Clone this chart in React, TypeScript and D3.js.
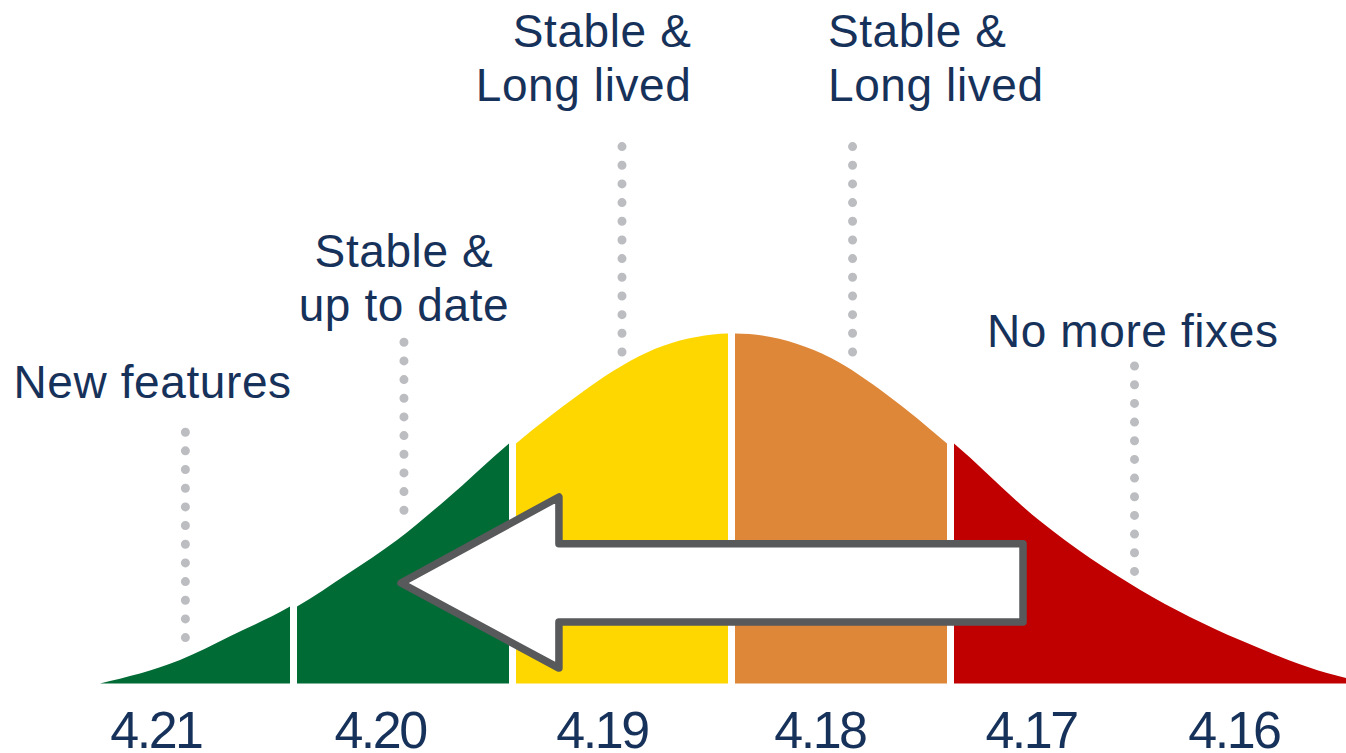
import * as React from 'react';
import * as d3 from 'd3';

// release labels under the curve, left to right
const releases = ['4.21', '4.20', '4.19', '4.18', '4.17', '4.16'];
// label centres along the axis (axis units)
const releasePos = [-2.715, -1.658, -0.611, 0.417, 1.413, 2.37];

// bell curve samples: position along the axis, height (peak = 1)
const curveX = [-2.896, -2.519, -2.283, -2.0, -1.764, -1.528, -1.292, -1.0, -0.698, -0.542, -0.382, -0.071, 0,
  0.453, 0.715, 1.0, 1.406, 1.877, 2.349, 2.849, 2.95];
const curveY = [0, 0.067, 0.135, 0.22, 0.312, 0.41, 0.528, 0.686, 0.828, 0.893, 0.946, 0.997, 1.0,
  0.93, 0.826, 0.686, 0.464, 0.268, 0.124, 0.016, 0.004];

// the curve is cut into pieces at these points
const pieceStart = [-2.896, -2, -1, 0, 1];
const pieceEnd = [-2, -1, 0, 1, 2.95];
const pieceColor = ['#006b35', '#006b35', '#fed700', '#de8738', '#c00000'];

// annotations: text lines, dotted leader position and extent
const noteLines = [['New features'], ['Stable &', 'up to date'], ['Stable &', 'Long lived'], ['Stable &', 'Long lived'], ['No more fixes']];
const noteTextX = [-3.387, -1.545, -0.189, 0.455, 1.205];
const noteAnchor = ['start', 'middle', 'end', 'start', 'start'];
const noteTextY = [0.8157, 1.19, 1.819, 1.819, 0.962];
const noteDotX = [-2.576, -1.545, -0.5165, 0.571, 1.901];
const noteDotTop = [0.718, 0.975, 1.534, 1.534, 0.907];
const noteDotBottom = [0.131, 0.495, 0.943, 0.943, 0.319];

// the arrow, in axis units
const arrowTip = [-1.559, 0.287];
const arrowNeck = -0.814;
const arrowTail = 1.375;
const arrowHead = [0.533, 0.044];
const arrowShaft = [0.399, 0.176];

const width = 1346;
const height = 753;
const gap = 7;
const textColor = '#17325a';
const font = '"Liberation Sans", Arial, sans-serif';

export default function App() {
  const x = d3.scaleLinear().domain([0, 1]).range([731.5, 943.5]);
  const y = d3.scaleLinear().domain([0, 1]).range([683.5, 333.5]);

  const pts = curveX.map((v, i) => [v, curveY[i]] as [number, number]);
  const area = d3
    .area<[number, number]>()
    .x((d) => x(d[0]))
    .y0(y(0))
    .y1((d) => y(d[1]))
    .curve(d3.curveMonotoneX);
  const areaPath = area(pts) || '';

  // pieces are pushed apart from the centre cut
  const shifts = pieceStart.map((_, i) => (i - 2.5) * gap);

  const arrow = [
    [arrowTip[0], arrowTip[1]],
    [arrowNeck, arrowHead[0]],
    [arrowNeck, arrowShaft[0]],
    [arrowTail, arrowShaft[0]],
    [arrowTail, arrowShaft[1]],
    [arrowNeck, arrowShaft[1]],
    [arrowNeck, arrowHead[1]],
  ];
  const arrowPath = 'M' + arrow.map((p) => `${x(p[0])},${y(p[1])}`).join('L') + 'Z';

  return (
    <svg width={width} height={height} style={{ position: 'absolute', left: 0, top: 0, background: '#fff' }}>
      <defs>
        {pieceStart.map((s, i) => (
          <clipPath id={`piece-${i}`} key={i}>
            <rect x={x(s)} y={0} width={x(pieceEnd[i]) - x(s)} height={height} />
          </clipPath>
        ))}
      </defs>

      {/* dotted leaders */}
      {noteDotX.map((v, i) => (
        <line
          key={i}
          x1={x(v)}
          x2={x(v)}
          y1={y(noteDotTop[i])}
          y2={y(noteDotBottom[i]) + 0.5}
          stroke="#bcbdc0"
          strokeWidth={9}
          strokeLinecap="round"
          strokeDasharray="0 18.67"
        />
      ))}

      {/* curve pieces, spread apart */}
      {pieceStart.map((_, i) => (
        <g key={i} transform={`translate(${shifts[i]},0)`}>
          <path d={areaPath} fill={pieceColor[i]} clipPath={`url(#piece-${i})`} />
        </g>
      ))}

      <path d={arrowPath} fill="#fff" stroke="#58595b" strokeWidth={7.5} strokeLinejoin="round" />

      {noteLines.map((lines, i) => (
        <text
          key={i}
          x={x(noteTextX[i])}
          y={y(noteTextY[i])}
          textAnchor={noteAnchor[i]}
          fontFamily={font}
          fontSize={46}
          letterSpacing={0.6}
          fill={textColor}
        >
          {lines.map((t, j) => (
            <tspan key={j} x={x(noteTextX[i])} dy={j === 0 ? 0 : 54}>
              {t}
            </tspan>
          ))}
        </text>
      ))}

      {releases.map((r, i) => (
        <text
          key={r}
          x={x(releasePos[i])}
          y={748}
          textAnchor="middle"
          fontFamily={font}
          fontSize={52}
          letterSpacing={-2.5}
          fill={textColor}
        >
          {r}
        </text>
      ))}
    </svg>
  );
}
